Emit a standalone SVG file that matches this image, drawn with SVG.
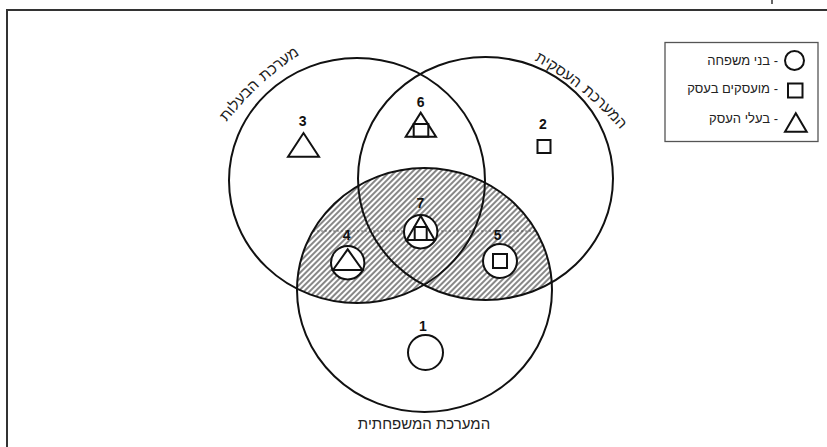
<svg xmlns="http://www.w3.org/2000/svg" width="827" height="447" viewBox="0 0 827 447">
  <style>
    .ring { fill: none; stroke: #111; stroke-width: 2; }
    .mk { fill: #fff; stroke: #111; stroke-width: 2; }
    .mkn { fill: none; stroke: #111; stroke-width: 2; }
    .num { font-family: "Liberation Sans", Arial, sans-serif; font-size: 14px; font-weight: bold; fill: #111; text-anchor: middle; }
    .heb { font-family: "Liberation Sans", "DejaVu Sans", sans-serif; font-size: 15px; fill: #222; }
    .leg { font-family: "Liberation Sans", "DejaVu Sans", sans-serif; font-size: 13px; fill: #222; }
  </style>
  <defs>
    <pattern id="hatch" width="4" height="4" patternUnits="userSpaceOnUse" patternTransform="rotate(45)">
      <rect width="4" height="4" fill="#fff"/>
      <line x1="1" y1="0" x2="1" y2="4" stroke="#555" stroke-width="1.4"/>
    </pattern>
    <clipPath id="clipB">
      <ellipse cx="424.5" cy="290" rx="127.5" ry="122"/>
    </clipPath>
    <path id="arcL" d="M 216.7 135.7 A 300 300 0 0 1 311.7 47.1"/>
    <path id="arcR" d="M 524.9 55.6 A 300 300 0 0 1 626.3 136.8"/>
  </defs>

  <rect width="827" height="447" fill="#fff"/>
  <!-- frame -->
  <path d="M 7 447 V 10 H 827" fill="none" stroke="#333" stroke-width="2"/>
  <line x1="772" y1="0" x2="772" y2="4" stroke="#333" stroke-width="1.5"/>

  <!-- shaded overlap -->
  <g id="shade" clip-path="url(#clipB)">
    <ellipse cx="357" cy="180.5" rx="128" ry="122.5" fill="url(#hatch)"/>
    <ellipse cx="485.5" cy="178.5" rx="127.5" ry="121.5" fill="url(#hatch)"/>
    <line x1="313" y1="231" x2="536" y2="231" stroke="#444" stroke-width="0.8" stroke-dasharray="2 2"/>
  </g>

  <g id="connectors"></g>

  <g id="circle-ownership">
    <ellipse class="ring" cx="357" cy="180.5" rx="128" ry="122.5"/>
    <text class="heb" direction="rtl"><textPath href="#arcL" startOffset="94.5" text-anchor="middle">מערכת</textPath></text>
    <text class="heb" direction="rtl"><textPath href="#arcL" startOffset="41.5" text-anchor="middle">הבעלות</textPath></text>
  </g>
  <g id="circle-business">
    <ellipse class="ring" cx="485.5" cy="178.5" rx="127.5" ry="121.5"/>
    <text class="heb" direction="rtl"><textPath href="#arcR" startOffset="94.5" text-anchor="middle">המערכת</textPath></text>
    <text class="heb" direction="rtl"><textPath href="#arcR" startOffset="36" text-anchor="middle">העסקית</textPath></text>
  </g>
  <g id="circle-family">
    <ellipse class="ring" cx="424.5" cy="290" rx="127.5" ry="122"/>
    <text class="heb" x="424" y="429" text-anchor="middle" direction="rtl">המערכת המשפחתית</text>
  </g>

  <g id="region-1">
    <text class="num" x="423" y="331">1</text>
    <circle class="mk" cx="425.5" cy="352.5" r="17.5"/>
  </g>
  <g id="region-2">
    <text class="num" x="543" y="129">2</text>
    <rect class="mk" x="537.5" y="140" width="13" height="13"/>
  </g>
  <g id="region-3">
    <text class="num" x="302.7" y="126">3</text>
    <polygon class="mk" points="288,156.7 303.5,133 319,156.7"/>
  </g>
  <g id="region-6">
    <text class="num" x="420.7" y="106.7">6</text>
    <polygon class="mk" points="405.7,136.7 420.7,112.7 436,136.7"/>
    <rect class="mkn" x="413.7" y="124" width="14.6" height="12.7"/>
  </g>
  <g id="region-7">
    <text class="num" x="420.5" y="207.7">7</text>
    <circle class="mk" cx="420.7" cy="231.7" r="16.7"/>
    <polygon class="mkn" points="406.7,240 420.7,216 434.7,240"/>
    <rect class="mkn" x="414.7" y="227" width="12" height="13"/>
  </g>
  <g id="region-4">
    <text class="num" x="346.7" y="240">4</text>
    <circle class="mk" cx="347.7" cy="262.7" r="16.7"/>
    <polygon class="mkn" points="333,270 347.7,249.3 362.4,270"/>
  </g>
  <g id="region-5">
    <text class="num" x="497.7" y="240">5</text>
    <circle class="mk" cx="500" cy="261" r="17"/>
    <rect class="mkn" x="493" y="254" width="14" height="14"/>
  </g>

  <g id="legend">
    <rect x="665" y="42.5" width="153" height="99" fill="#fff" stroke="#555" stroke-width="1.3"/>
    <circle class="mkn" cx="794.5" cy="60.5" r="9.5" stroke-width="1.6"/>
    <rect class="mkn" x="788" y="83.5" width="14.5" height="14" stroke-width="1.6"/>
    <polygon class="mkn" points="785,131.7 795.8,113.3 806.7,131.7" stroke-width="1.6"/>
    <text class="leg" x="778" y="65" direction="rtl" text-anchor="start">- בני משפחה</text>
    <text class="leg" x="778" y="93" direction="rtl" text-anchor="start">- מועסקים בעסק</text>
    <text class="leg" x="778" y="122.7" direction="rtl" text-anchor="start">- בעלי העסק</text>
  </g>
</svg>
